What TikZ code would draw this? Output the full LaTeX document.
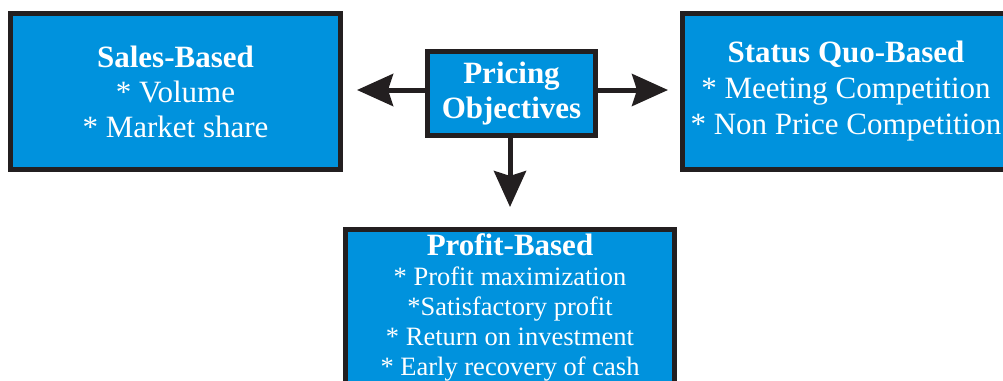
\documentclass[tikz,border=0pt]{standalone}
\usepackage{fontspec}
\setmainfont{Liberation Serif}
\usetikzlibrary{arrows.meta}
\definecolor{boxblue}{RGB}{0,146,221}
\definecolor{ink}{RGB}{35,31,32}
\begin{document}
\begin{tikzpicture}[x=1pt,y=-1pt,
  box/.style={draw=ink, line width=5pt, fill=boxblue, text=white, align=center, inner sep=0pt},
  bigtext/.style={font=\fontsize{31}{35}\selectfont},
  arr/.style={draw=ink, line width=5pt, -{Stealth[length=36pt,width=32pt,inset=5pt]}}]
\clip (0,0) rectangle (1003,380);
\node[box, bigtext, minimum width=330pt, minimum height=156pt] (sales) at (175.5,91.5)
  {\textbf{Sales-Based}\\{*} Volume\\{*} Market share};
\node[box, bigtext, minimum width=168pt, minimum height=84pt] (pricing) at (511.5,93.5)
  {\textbf{Pricing}\\\textbf{Objectives}};
\node[box, font=\fontsize{31}{36}\selectfont, minimum width=327pt, minimum height=156pt] (status) at (846,91.5)
  {\textbf{Status Quo-Based}\\{*} Meeting Competition\\{*} Non Price Competition};
\node[box, font=\fontsize{26.5}{30}\selectfont, minimum width=329pt, inner ysep=5pt, anchor=north] (profit) at (510,226.5)
  {{\fontsize{31}{30}\selectfont\bfseries Profit-Based}\\{*} Profit maximization\\{*}Satisfactory profit\\{*} Return on investment\\{*} Early recovery of cash};
\coordinate (ltip) at (357,90);
\coordinate (rtip) at (668,90);
\coordinate (dtip) at (510,207);
\draw[arr] (pricing.west |- ltip) -- (ltip);
\draw[arr] (pricing.east |- rtip) -- (rtip);
\draw[arr] (pricing.south -| dtip) -- (dtip);
\end{tikzpicture}
\end{document}
